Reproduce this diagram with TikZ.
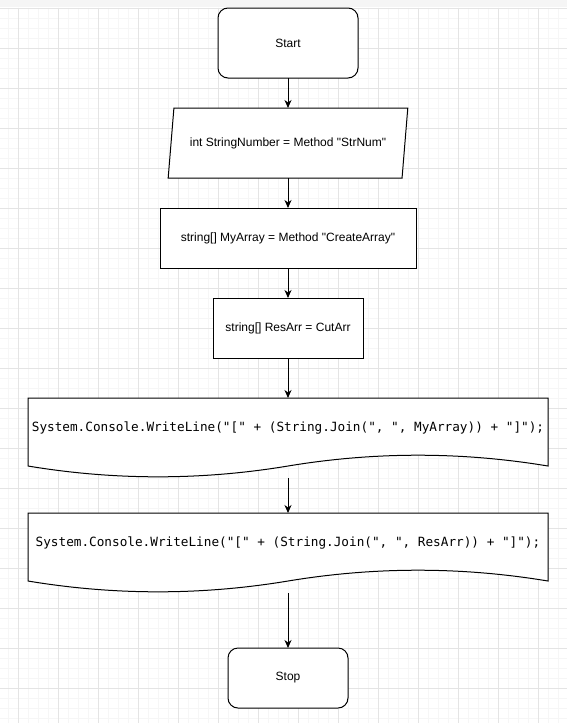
\documentclass[tikz,border=0pt]{standalone}
\usepackage{fontspec}
\setmainfont{Liberation Sans}
\newfontfamily\codefont{DejaVu Sans Mono}
\usetikzlibrary{arrows.meta,positioning,shapes.geometric,backgrounds}
\definecolor{gridminor}{HTML}{F6F6F6}
\definecolor{gridmajor}{HTML}{E4E4E4}
\definecolor{topband}{HTML}{F5F5F5}
\tikzset{
>={Stealth[length=8pt,width=7pt,inset=2.5pt]},
node distance=30pt,
minor grid/.style={draw=gridminor,line width=1pt},
major grid/.style={draw=gridmajor,line width=1pt},
terminal node/.style={draw,fill=white,rounded corners=10pt,outer sep=0pt,minimum width=140pt,minimum height=70pt,font=\fontsize{12}{14}\selectfont},
input node/.style={draw,fill=white,trapezium,trapezium left angle=74.05,trapezium right angle=105.95,trapezium stretches=true,outer sep=0pt,minimum width=240pt,minimum height=70pt,font=\fontsize{12}{14}\selectfont},
process node/.style={draw,fill=white,outer sep=0pt,minimum height=60pt,font=\fontsize{12}{14}\selectfont},
document node/.style={inner sep=0pt,outer sep=0pt,minimum width=520pt,text height=33.5pt,text depth=46.5pt,font=\codefont\fontsize{12.7}{15}\selectfont},
doc outline/.style={draw,fill=white,line width=1pt},
flow arrow/.style={->,line width=1pt}}

\begin{document}
\begin{tikzpicture}[x=1pt,y=-1pt,line width=1pt]

\useasboundingbox (0,0) rectangle (567,723);
\begin{scope}[on background layer]
\fill[white] (0,0) rectangle (567,723);
\foreach \i in {0,...,55} \draw[minor grid] ({8.5+10*\i},7.5) -- ({8.5+10*\i},723);
\foreach \i in {0,...,71} \draw[minor grid] (0,{8.5+10*\i}) -- (567,{8.5+10*\i});
\foreach \i in {0,...,13} \draw[major grid] ({18.5+40*\i},7.5) -- ({18.5+40*\i},723);
\foreach \i in {0,...,17} \draw[major grid] (0,{8.5+40*\i}) -- (567,{8.5+40*\i});
\fill[topband] (0,0) rectangle (567,7);
\end{scope}

\node[terminal node] (start) at (288,43) {Start};
\node[input node,below=30pt of start] (read) {int StringNumber = Method \textquotedbl StrNum\textquotedbl};
\node[process node,minimum width=256pt,below=30pt of read] (create) {string[] MyArray = Method \textquotedbl CreateArray\textquotedbl};
\node[process node,minimum width=150pt,below=30pt of create] (cut) {string[] ResArr = CutArr};
\node[document node,below=40pt of cut] (print1) {System.Console.WriteLine("[" + (String.Join(", ", MyArray)) + "]");};
\node[document node,below=35pt of print1] (print2) {System.Console.WriteLine("[" + (String.Join(", ", ResArr)) + "]");};
\node[terminal node,minimum width=120pt,minimum height=60pt,below=55pt of print2] (stop) {Stop};

\begin{scope}[on background layer]
\foreach \d in {print1,print2}
  \draw[doc outline,shift={(\d.north west)}] (0,0) -- (520,0) -- (520,68)
    .. controls (433.3,53.6) and (346.7,53.6) .. (260,68)
    .. controls (173.3,82.4) and (86.7,82.4) .. (0,68) -- cycle;
\end{scope}

\draw[flow arrow] (start.south) -- (read.north);
\draw[flow arrow] (read.south) -- (create.north);
\draw[flow arrow] (create.south) -- (cut.north);
\draw[flow arrow] (cut.south) -- (print1.north);
\draw[flow arrow] (print1.south) -- (print2.north);
\draw[flow arrow] (print2.south) -- (stop.north);

\end{tikzpicture}
\end{document}
